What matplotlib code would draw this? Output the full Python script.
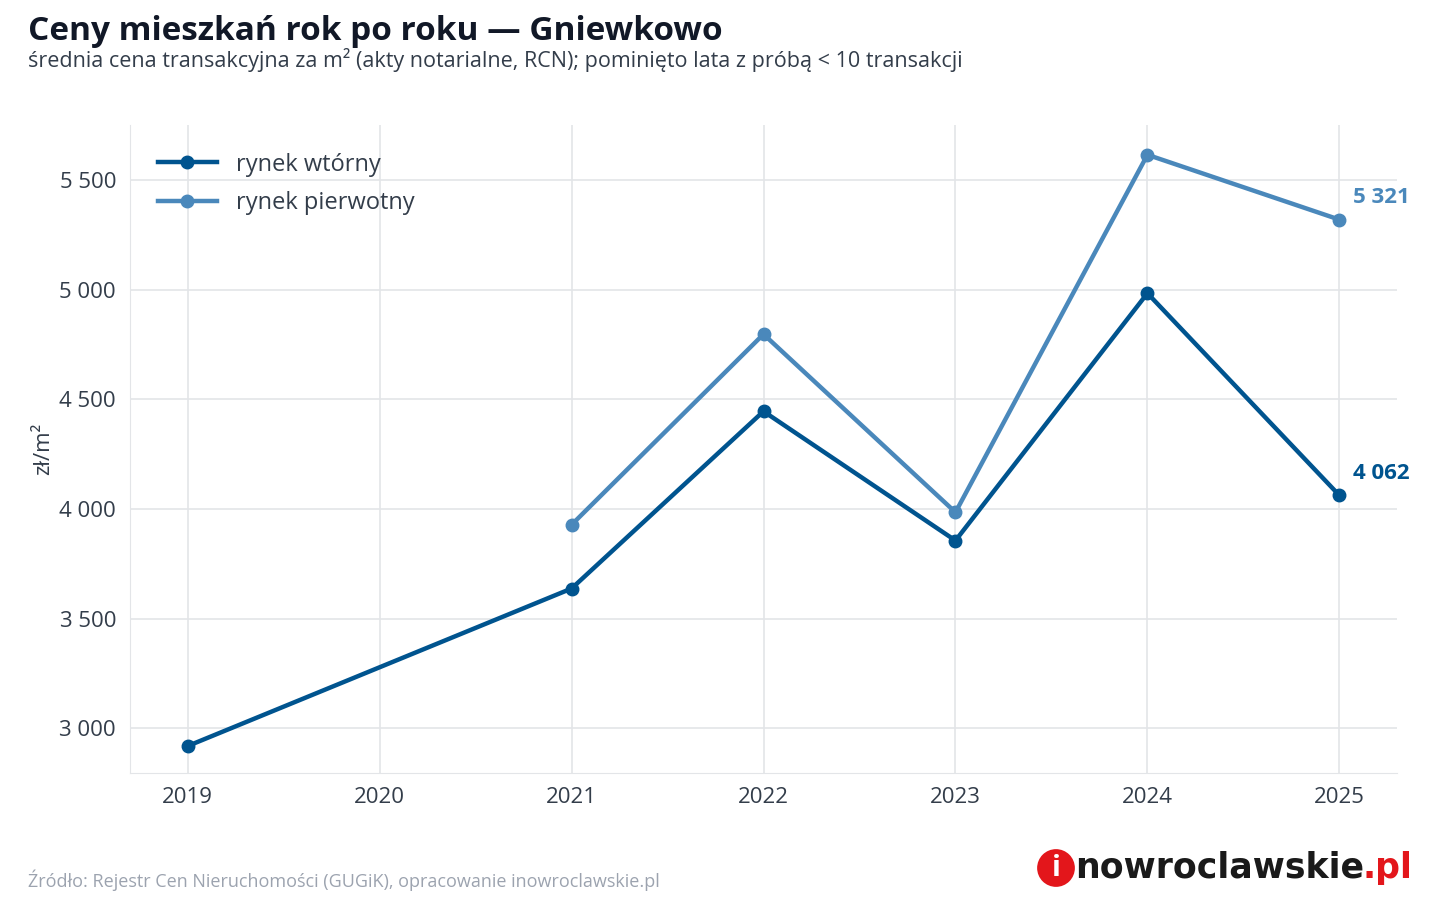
import matplotlib
matplotlib.use("Agg")
import matplotlib.pyplot as plt

plt.rcParams['font.family'] = ['Open Sans', 'DejaVu Sans']

years_wt = [2019, 2021, 2022, 2023, 2024, 2025]
vals_wt = [2918, 3637, 4446, 3856, 4985, 4062]
years_pi = [2021, 2022, 2023, 2024, 2025]
vals_pi = [3928, 4798, 3985, 5617, 5321]
xticks = [2019, 2020, 2021, 2022, 2023, 2024, 2025]
yticks = [3000, 3500, 4000, 4500, 5000, 5500]

c_wt = '#00548f'
c_pi = '#4a88bb'

fig = plt.figure(figsize=(14.4, 9), dpi=100)
ax = fig.add_axes([130/1440, 1-773/900, (1397-130)/1440, (773-125)/900])

ax.plot(years_wt, vals_wt, color=c_wt, lw=3.2, marker='o', ms=9, label='rynek wtórny', zorder=3)
ax.plot(years_pi, vals_pi, color=c_pi, lw=3.2, marker='o', ms=9, label='rynek pierwotny', zorder=3)

ax.set_xlim(2018.7, 2025.3)
ax.set_ylim(2795, 5753)
ax.set_xticks(xticks)
ax.set_xticklabels([str(x) for x in xticks])
ax.set_yticks(yticks)
ax.set_yticklabels([f"{v:,}".replace(',', ' ') for v in yticks])
ax.tick_params(labelsize=16, colors='#333d4a', length=0, pad=10)
ax.grid(True, color='#e3e5e8', lw=1.2)
for s in ['top', 'right']:
    ax.spines[s].set_visible(False)
for s in ['left', 'bottom']:
    ax.spines[s].set_color('#e3e5e8')
ax.set_ylabel('zł/m²', fontsize=16, color='#333d4a')

ax.annotate(f"{vals_pi[-1]:,}".replace(',', ' '), (years_pi[-1], vals_pi[-1]), xytext=(10, 12),
            textcoords='offset points', color=c_pi, fontsize=16, fontweight='bold')
ax.annotate(f"{vals_wt[-1]:,}".replace(',', ' '), (years_wt[-1], vals_wt[-1]), xytext=(10, 12),
            textcoords='offset points', color=c_wt, fontsize=16, fontweight='bold')

leg = ax.legend(loc='upper left', fontsize=17, frameon=False, handlelength=2.5,
                labelspacing=0.6, bbox_to_anchor=(0.005, 0.99), labelcolor='#333d4a')

fig.text(28/1440, 1-32/900, 'Ceny mieszkań rok po roku — Gniewkowo', fontsize=24,
         fontweight='bold', color='#111827', va='center')
fig.text(28/1440, 1-60/900,
         'średnia cena transakcyjna za m² (akty notarialne, RCN); pominięto lata z próbą < 10 transakcji',
         fontsize=15.5, color='#333d4a', va='center')
fig.text(28/1440, 1-880/900, 'Źródło: Rejestr Cen Nieruchomości (GUGiK), opracowanie inowroclawskie.pl',
         fontsize=13, color='#9ca3af', va='center')

fig.text(1056/1440, 1-868/900, 'i', fontsize=21, fontweight='bold', color='white', va='center', ha='center',
         bbox=dict(boxstyle='circle,pad=0.15', fc='#e3161b', ec='none'))
fig.text(1364/1440, 1-868/900, 'nowroclawskie', fontsize=25, fontweight='heavy', color='#1a1a1a',
         va='center', ha='right', family='DejaVu Sans')
fig.text(1362/1440, 1-868/900, '.pl', fontsize=25, fontweight='heavy', color='#e3161b', va='center',
         ha='left', family='DejaVu Sans')

fig.savefig('out.png', dpi=100)
